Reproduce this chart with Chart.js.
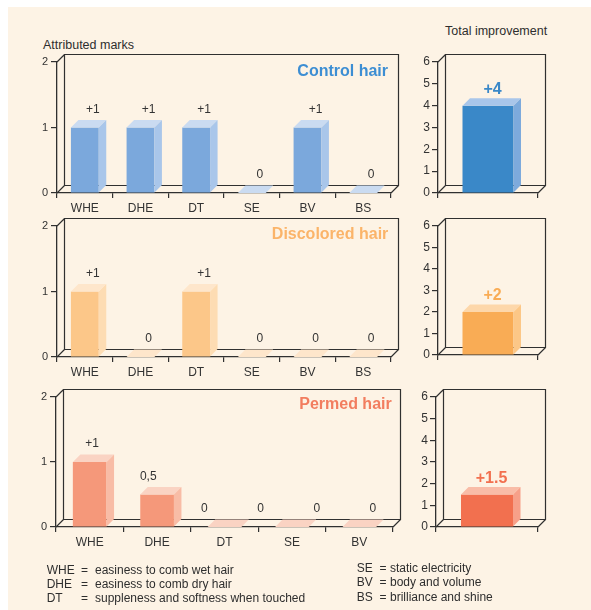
<!DOCTYPE html>
<html>
<head>
<meta charset="utf-8">
<script src="https://cdn.jsdelivr.net/npm/chart.js@4.4.1/dist/chart.umd.min.js"></script>
<style>
  html, body { margin: 0; padding: 0; background: #ffffff; }
  body { width: 591px; height: 610px; position: relative; overflow: hidden;
         font-family: "Liberation Sans", Arial, Helvetica, sans-serif; color: #2e2e2e; }
  #sheet { position: absolute; left: 8px; top: 7px; right: 0; bottom: 0; background: #FDF3E5; }
  canvas { position: absolute; }
  .cap { position: absolute; font-size: 12.5px; line-height: 14px; white-space: nowrap; }
  .leg { position: absolute; font-size: 12px; line-height: 14px; white-space: nowrap; }
</style>
</head>
<body>
<div id="sheet"></div>
<div class="cap" style="left:43px; top:38px;">Attributed marks</div>
<div class="cap" style="left:445px; top:24px;">Total improvement</div>
<canvas id="c1"></canvas>
<canvas id="c2"></canvas>
<canvas id="c3"></canvas>
<canvas id="c4"></canvas>
<canvas id="c5"></canvas>
<canvas id="c6"></canvas>
<div id="legend"></div>

<script>
// ---- data ----
const categories = ['WHE', 'DHE', 'DT', 'SE', 'BV', 'BS'];
const permedCategories = ['WHE', 'DHE', 'DT', 'SE', 'BV'];
const controlMarks = [1, 1, 1, 0, 1, 0];
const discoloredMarks = [1, 0, 1, 0, 0, 0];
const permedMarks = [1, 0.5, 0, 0, 0];
const permedLabelValues = [1, 0.5, 0, 0, 0, 0];
const totalLabels = ['Total'];
const controlTotal = [4];
const discoloredTotal = [2];
const permedTotal = [1.5];
const marksMax = 2;
const totalMax = 6;
const legendLeft = [
  ['WHE', 'easiness to comb wet hair'],
  ['DHE', 'easiness to comb dry hair'],
  ['DT', 'suppleness and softness when touched']
];
const legendRight = [
  ['SE', 'static electricity'],
  ['BV', 'body and volume'],
  ['BS', 'brilliance and shine']
];

// ---- look ----
const FONT = '"Liberation Sans", Arial, Helvetica, sans-serif';
const INK = '#303030';
const TEXT = '#333333';
const DEPTH = 7.5;

const fmtMarks = v => (Number.isInteger(v) && v > 0) ? '+' + v : String(v).replace('.', ',');
const fmtTotal = v => '+' + v;

// Draws the open 3D frame, the panel heading, the top/side faces of each bar and the value labels.
const box3d = {
  id: 'box3d',
  beforeDatasetsDraw(chart, args, opt) {
    const a = chart.chartArea, ctx = chart.ctx, d = DEPTH;
    ctx.save();
    ctx.strokeStyle = INK;
    ctx.lineWidth = 1.2;
    ctx.beginPath();
    ctx.rect(a.left + d, a.top - d, a.right - a.left, a.bottom - a.top);
    ctx.moveTo(a.left, a.top); ctx.lineTo(a.left + d, a.top - d);
    ctx.moveTo(a.left, a.bottom); ctx.lineTo(a.left + d, a.bottom - d);
    ctx.moveTo(a.right, a.bottom); ctx.lineTo(a.right + d, a.bottom - d);
    ctx.stroke();
    if (opt.title) {
      ctx.font = 'bold 16px ' + FONT;
      ctx.fillStyle = opt.titleColor;
      ctx.textAlign = 'right';
      ctx.textBaseline = 'middle';
      ctx.fillText(opt.title, a.right - opt.titleInset, a.top + opt.titleDrop);
    }
    ctx.restore();
  },
  afterDatasetsDraw(chart, args, opt) {
    const ctx = chart.ctx, d = DEPTH;
    ctx.save();
    chart.getDatasetMeta(0).data.forEach(bar => {
      const { x, y, base, width } = bar.getProps(['x', 'y', 'base', 'width'], true);
      const l = x - width / 2, r = x + width / 2;
      ctx.fillStyle = opt.top;
      ctx.beginPath();
      ctx.moveTo(l, y); ctx.lineTo(l + d, y - d); ctx.lineTo(r + d, y - d); ctx.lineTo(r, y);
      ctx.closePath(); ctx.fill();
      if (base - y > 0.5) {
        ctx.fillStyle = opt.side;
        ctx.beginPath();
        ctx.moveTo(r, y); ctx.lineTo(r + d, y - d); ctx.lineTo(r + d, base - d); ctx.lineTo(r, base);
        ctx.closePath(); ctx.fill();
      }
    });
    const li = chart.data.datasets.length - 1;
    const vals = chart.data.datasets[li].data;
    ctx.font = opt.labelFont;
    ctx.fillStyle = opt.labelColor;
    ctx.textAlign = 'center';
    ctx.textBaseline = 'middle';
    chart.getDatasetMeta(li).data.forEach((el, i) => {
      const p = el.getProps(['x', 'y'], true);
      ctx.fillText(opt.fmt(vals[i]), p.x + opt.labelDx, p.y - opt.labelDy);
    });
    ctx.restore();
  }
};

function panel(id, area, cfg) {
  const yw = 30, pt = 22, pr = 16, xh = 28;
  const cv = document.getElementById(id);
  const W = area.r - area.l + yw + pr;
  const H = area.b - area.t + pt + xh;
  cv.width = W; cv.height = H;
  cv.style.width = W + 'px'; cv.style.height = H + 'px';
  cv.style.left = (area.l - yw) + 'px';
  cv.style.top = (area.t - pt) + 'px';

  const datasets = [{
    data: cfg.values,
    backgroundColor: cfg.front,
    borderWidth: 0,
    grouped: false,
    barPercentage: cfg.barPct,
    categoryPercentage: 1
  }];
  const scales = {
    x: {
      z: 1,
      offset: true,
      grid: { display: true, drawOnChartArea: false, drawTicks: true, tickLength: 5,
              color: INK, lineWidth: 1.2, offset: true },
      border: { display: true, color: INK, width: 1.3 },
      ticks: { display: cfg.showX, color: TEXT, font: { size: 12, family: FONT },
               padding: 3, maxRotation: 0, autoSkip: false },
      afterFit(s) { s.height = xh; }
    },
    y: {
      min: 0, max: cfg.max,
      grid: { display: true, drawOnChartArea: false, drawTicks: true, tickLength: 6,
              color: INK, lineWidth: 1.2 },
      border: { display: true, color: INK, width: 1.3 },
      ticks: { stepSize: 1, color: TEXT, font: { size: cfg.yFont, family: FONT }, padding: cfg.yPad },
      afterFit(s) { s.width = yw; }
    }
  };
  if (cfg.labelValues) {
    // value labels laid out on their own category axis
    datasets.push({
      data: cfg.labelValues,
      xAxisID: 'xl',
      backgroundColor: 'rgba(0,0,0,0)',
      borderWidth: 0,
      grouped: false,
      barPercentage: cfg.barPct,
      categoryPercentage: 1
    });
    scales.xl = { type: 'category', labels: cfg.labelCategories, display: false, offset: true };
  }

  new Chart(cv, {
    type: 'bar',
    data: { labels: cfg.labels, datasets },
    options: {
      responsive: false,
      animation: false,
      devicePixelRatio: 1,
      layout: { padding: { top: pt, right: pr, left: 0, bottom: 0 } },
      plugins: {
        legend: { display: false },
        tooltip: { enabled: false },
        box3d: {
          top: cfg.top, side: cfg.side,
          title: cfg.title, titleColor: cfg.titleColor,
          titleInset: cfg.titleInset, titleDrop: cfg.titleDrop,
          labelFont: cfg.labelFont, labelColor: cfg.labelColor,
          labelDx: cfg.labelDx, labelDy: cfg.labelDy, fmt: cfg.fmt
        }
      },
      scales
    },
    plugins: [box3d]
  });
}

const marksCommon = {
  max: marksMax, yFont: 11, yPad: 3, showX: true, barPct: 0.5,
  labelFont: '12px ' + FONT, labelColor: TEXT, labelDx: 8, labelDy: 18, fmt: fmtMarks
};
const totalCommon = {
  labels: totalLabels, max: totalMax, yFont: 12, yPad: 2, showX: false, barPct: 0.51,
  labelFont: 'bold 16px ' + FONT, labelDx: 4.5, labelDy: 16, fmt: fmtTotal
};

panel('c1', { l: 57, r: 391, t: 62, b: 193 }, Object.assign({}, marksCommon, {
  labels: categories, values: controlMarks,
  front: '#7BA8DC', side: '#A9C6EA', top: '#CADBF1',
  title: 'Control hair', titleColor: '#3D8ED3', titleInset: 3, titleDrop: 10
}));
panel('c2', { l: 57, r: 391, t: 226, b: 357 }, Object.assign({}, marksCommon, {
  labels: categories, values: discoloredMarks,
  front: '#FCC789', side: '#FDDCB3', top: '#FEE6CB',
  title: 'Discolored hair', titleColor: '#FBB469', titleInset: 2.7, titleDrop: 8.3
}));
panel('c3', { l: 56, r: 393, t: 397, b: 527 }, Object.assign({}, marksCommon, {
  labels: permedCategories, values: permedMarks,
  labelValues: permedLabelValues, labelCategories: categories,
  front: '#F5987A', side: '#F8BCA6', top: '#FAD3C3',
  title: 'Permed hair', titleColor: '#F27D5F', titleInset: 1.3, titleDrop: 8
}));
panel('c4', { l: 438, r: 538, t: 62, b: 193 }, Object.assign({}, totalCommon, {
  values: controlTotal, front: '#3A88C8', side: '#7DAADC', top: '#A9C6EA', labelColor: '#3A88C8'
}));
panel('c5', { l: 438, r: 538, t: 226, b: 355 }, Object.assign({}, totalCommon, {
  values: discoloredTotal, front: '#F9AC55', side: '#FCC787', top: '#FDD7AA', labelColor: '#F9AC55'
}));
panel('c6', { l: 436, r: 538, t: 397, b: 527 }, Object.assign({}, totalCommon, {
  values: permedTotal, front: '#F2704F', side: '#F7A089', top: '#F9BCA7', labelColor: '#F2704F'
}));

// ---- abbreviations key ----
const legend = document.getElementById('legend');
function legendColumn(rows, xCode, xEq, xText, tops) {
  rows.forEach((row, i) => {
    [[row[0], xCode], ['=', xEq], [row[1], xText]].forEach(([txt, x]) => {
      const s = document.createElement('div');
      s.className = 'leg';
      s.style.left = x + 'px';
      s.style.top = tops[i] + 'px';
      s.textContent = txt;
      legend.appendChild(s);
    });
  });
}
legendColumn(legendLeft, 46.7, 81, 95, [563, 577, 591.3]);
legendColumn(legendRight, 356.7, 379.5, 390, [561.3, 575.3, 589.7]);
</script>
</body>
</html>
